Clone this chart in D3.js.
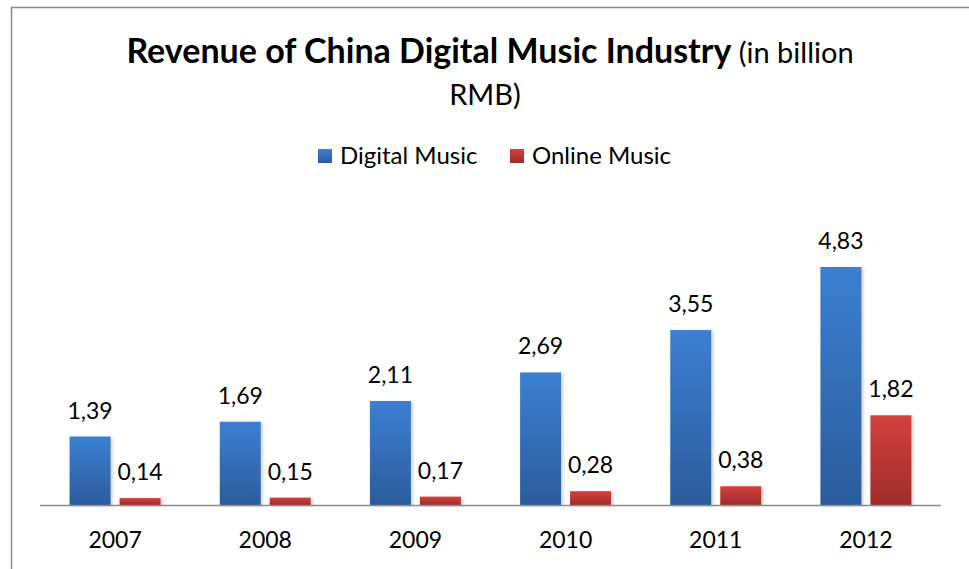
<!DOCTYPE html>
<html>
<head>
<meta charset="utf-8">
<script src="https://cdn.jsdelivr.net/npm/d3@7"></script>
<style>
  body { margin: 0; background: #fff; }
  svg text { font-family: Lato, "Open Sans", sans-serif; fill: #000; }
</style>
</head>
<body>
<div id="chart"></div>
<script>
var years = ["2007", "2008", "2009", "2010", "2011", "2012"];
var digitalMusic = [1.39, 1.69, 2.11, 2.69, 3.55, 4.83];
var onlineMusic = [0.14, 0.15, 0.17, 0.28, 0.38, 1.82];
var seriesNames = ["Digital Music", "Online Music"];

var width = 969, height = 569;
var baseY = 505;

var svg = d3.select("#chart").append("svg")
  .attr("width", width)
  .attr("height", height);

var defs = svg.append("defs");
function grad(id, top, bottom) {
  var g = defs.append("linearGradient").attr("id", id)
    .attr("x1", 0).attr("y1", 0).attr("x2", 0).attr("y2", 1);
  g.append("stop").attr("offset", "0%").attr("stop-color", top);
  g.append("stop").attr("offset", "100%").attr("stop-color", bottom);
}
grad("gBlue", "#3c7fd2", "#2b5c9c");
grad("gRed", "#d4403e", "#9f2c2a");
var f = defs.append("filter").attr("id", "shadow")
  .attr("x", "-20%").attr("y", "-20%").attr("width", "150%").attr("height", "150%");
f.append("feDropShadow").attr("dx", 2).attr("dy", 1).attr("stdDeviation", 1.5)
  .attr("flood-color", "#000").attr("flood-opacity", 0.18);

// border
svg.append("path")
  .attr("d", "M11.5,569 V7.5 H969")
  .attr("fill", "none").attr("stroke", "#8c8c8c").attr("stroke-width", 1.5);

// title
var title = svg.append("text").attr("text-anchor", "middle");
title.append("tspan").attr("x", 490).attr("y", 63)
  .attr("font-weight", "bold").attr("font-size", 34)
  .text("Revenue of China Digital Music Industry");
title.append("tspan").attr("font-size", 29).text(" (in billion");
svg.append("text").attr("x", 485).attr("y", 105).attr("text-anchor", "middle")
  .attr("font-size", 29).text("RMB)");

// legend
var legend = svg.append("g");
var legX = [318, 510];
seriesNames.forEach(function(name, i) {
  legend.append("rect").attr("x", legX[i]).attr("y", 149).attr("width", 14).attr("height", 14)
    .attr("fill", i === 0 ? "url(#gBlue)" : "url(#gRed)");
  legend.append("text").attr("x", legX[i] + 22).attr("y", 164)
    .attr("font-size", 24).text(name);
});

var x = d3.scaleBand().domain(years).range([40, 941]);
var y = d3.scaleLinear().domain([0, 4.83]).range([baseY, 267]);
var barW = 41, gap = 9;

var groups = svg.selectAll(".grp").data(years).enter().append("g")
  .attr("transform", function(d) {
    return "translate(" + (x(d) + x.bandwidth() / 2) + ",0)";
  });

var fmt = function(v) { return d3.format(".2f")(v).replace(".", ","); };

[digitalMusic, onlineMusic].forEach(function(vals, s) {
  var off = s === 0 ? -(barW + gap / 2) : gap / 2;
  groups.append("rect")
    .attr("x", off)
    .attr("y", function(d, i) { return y(vals[i]); })
    .attr("width", barW)
    .attr("height", function(d, i) { return baseY - y(vals[i]); })
    .attr("fill", s === 0 ? "url(#gBlue)" : "url(#gRed)")
    .attr("filter", "url(#shadow)");
  groups.append("text")
    .attr("x", off + barW / 2)
    .attr("y", function(d, i) { return y(vals[i]) - 18; })
    .attr("text-anchor", "middle")
    .attr("font-size", 23)
    .text(function(d, i) { return fmt(vals[i]); });
});

// axis line
svg.append("line").attr("x1", 40).attr("x2", 941)
  .attr("y1", baseY + 0.5).attr("y2", baseY + 0.5)
  .attr("stroke", "#8c8c8c").attr("stroke-width", 1.5);

groups.append("text").attr("x", 0).attr("y", 548)
  .attr("text-anchor", "middle").attr("font-size", 23)
  .text(function(d) { return d; });
</script>
</body>
</html>
